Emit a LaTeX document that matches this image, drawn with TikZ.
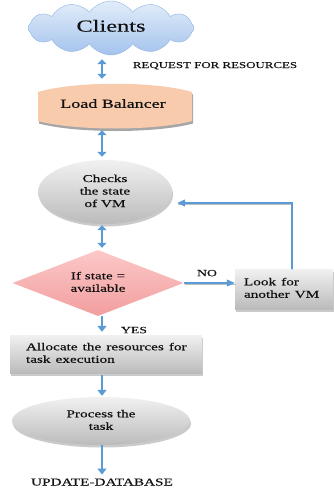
\documentclass[tikz,border=0pt]{standalone}
\usepackage{fontspec}
\setmainfont{Liberation Serif}[FakeBold=0.3]
\usetikzlibrary{shapes.symbols,shapes.geometric,arrows.meta,shadows,calc}

\definecolor{flowblue}{HTML}{5B9BD5}
\definecolor{cloudtop}{HTML}{E2EDFA}
\definecolor{cloudbot}{HTML}{A4C3EC}
\definecolor{cloudedge}{HTML}{8FB2E0}
\definecolor{lbfill}{HTML}{F8CBAD}
\definecolor{greytop}{HTML}{F1F1F1}
\definecolor{greybot}{HTML}{BBBBBB}
\definecolor{pinktop}{HTML}{FCC8C8}
\definecolor{pinkbot}{HTML}{F29E9E}
\definecolor{inkcol}{HTML}{111111}

% wide lettering: text block stretched horizontally
\newcommand{\widec}[1]{\scalebox{1.45}[1]{\begin{tabular}{@{}c@{}}#1\end{tabular}}}
\newcommand{\widel}[1]{\scalebox{1.45}[1]{\begin{tabular}{@{}l@{}}#1\end{tabular}}}

\begin{document}
\begin{tikzpicture}[x=1pt,y=-1pt,
  every node/.style={text=inkcol},
  body/.style={font=\fontsize{10.5}{12.5}\selectfont},
  small/.style={font=\fontsize{8.9}{10}\selectfont},
  greyfill/.style={top color=greytop, bottom color=greybot, draw=none},
  softshadow/.style={drop shadow={shadow xshift=1pt, shadow yshift=-2.5pt, opacity=0.35, fill=black!60}},
  stepoval/.style={ellipse, greyfill, softshadow, body, inner sep=0pt},
  stepbox/.style={rectangle, greyfill, softshadow, body, inner ysep=0pt},
  biarrow/.style={draw=flowblue, line width=2.6pt,
    {Triangle[width=9pt,length=5pt]}-{Triangle[width=9pt,length=5pt]}},
  downarrow/.style={draw=flowblue, line width=2.4pt, -{Triangle[width=9pt,length=6pt]}},
  link/.style={draw=flowblue, line width=1.1pt, -{Triangle[width=7pt,length=8pt]},
    preaction={-, draw=black!25, line width=1pt, transform canvas={shift={(0.8pt,-1.6pt)}}}}
]
\useasboundingbox (0,0) rectangle (334,488);

% client cloud
\node[cloud, cloud puffs=12, cloud puff arc=110, aspect=3.1,
      minimum width=166pt, minimum height=54pt, inner sep=0pt,
      draw=cloudedge, top color=cloudtop, bottom color=cloudbot,
      font=\fontsize{16.8}{18}\selectfont] (clients) at (111,28) {\widec{Clients}};

% load balancer: box with bulging top and bottom edges
\fill[black!35] (39,94.5) .. controls (76,83.5) and (156,83.5) .. (193,94.5)
  -- (193,123.5) .. controls (156,133.5) and (76,133.5) .. (39,123.5) -- cycle;
\fill[lbfill] (38,92) .. controls (75,81) and (155,81) .. (192,92)
  -- (192,121) .. controls (155,131) and (75,131) .. (38,121) -- cycle;
\node[rectangle, minimum width=154pt, minimum height=44pt, inner sep=0pt,
      font=\fontsize{12.4}{14}\selectfont] (lb) at (113,105) {\widec{Load Balancer}};

% flow steps
\node[stepoval, minimum width=134pt, minimum height=64pt] (check) at (105,192)
  {\widec{Checks\\the state\\of VM}};
\node[diamond, aspect=2.6, minimum width=171pt, minimum height=66pt, inner sep=0pt,
      top color=pinktop, bottom color=pinkbot, body] (cond) at (98,283)
  {\widec{If state =\\available}};
\node[stepbox, minimum width=98pt, minimum height=40pt, text width=80pt, inner xsep=9pt]
  (look) at (284,289) {\widel{Look for\\another VM}};
\node[stepbox, minimum width=192pt, minimum height=38pt, text width=160pt, inner xsep=16pt]
  (alloc) at (106,354) {\widel{Allocate the resources for\\task execution}};
\node[stepoval, minimum width=178pt, minimum height=48pt] (proc) at (101,421)
  {\widec{Process the\\task}};
\node[body, inner sep=1pt] (update) at (102,483) {\widec{UPDATE-DATABASE}};

% labels
\node[small] (req) at (215,66) {\widec{REQUEST FOR RESOURCES}};
\node[font=\fontsize{9.5}{11}\selectfont] (no) at (207,274) {\widec{NO}};
\node[font=\fontsize{9.5}{11}\selectfont] (yes) at (134,331) {\widec{YES}};

% connectors
\coordinate (ax) at (102,0);
\draw[biarrow] ([yshift=-4pt]clients.south -| ax) -- ([yshift=4pt]lb.north -| ax);
\draw[biarrow] ([yshift=-3pt]lb.south -| ax) -- ([yshift=3pt]check.north -| ax);
\draw[biarrow] ([yshift=-1pt]check.south -| ax) -- ([yshift=2pt]cond.north -| ax);
\draw[downarrow] (cond.south -| ax) -- ([yshift=3pt]alloc.north -| ax);
\draw[downarrow] ([yshift=-2pt]alloc.south -| ax) -- ([yshift=1pt]proc.north -| ax);
\draw[downarrow] (proc.south -| ax) -- ([yshift=1pt]update.north -| ax);
\draw[link] (cond.east) -- (cond.east -| look.west);
\draw[link] ([xshift=8pt]look.north) |- ([shift={(5pt,-11pt)}]check.east);
\end{tikzpicture}
\end{document}
